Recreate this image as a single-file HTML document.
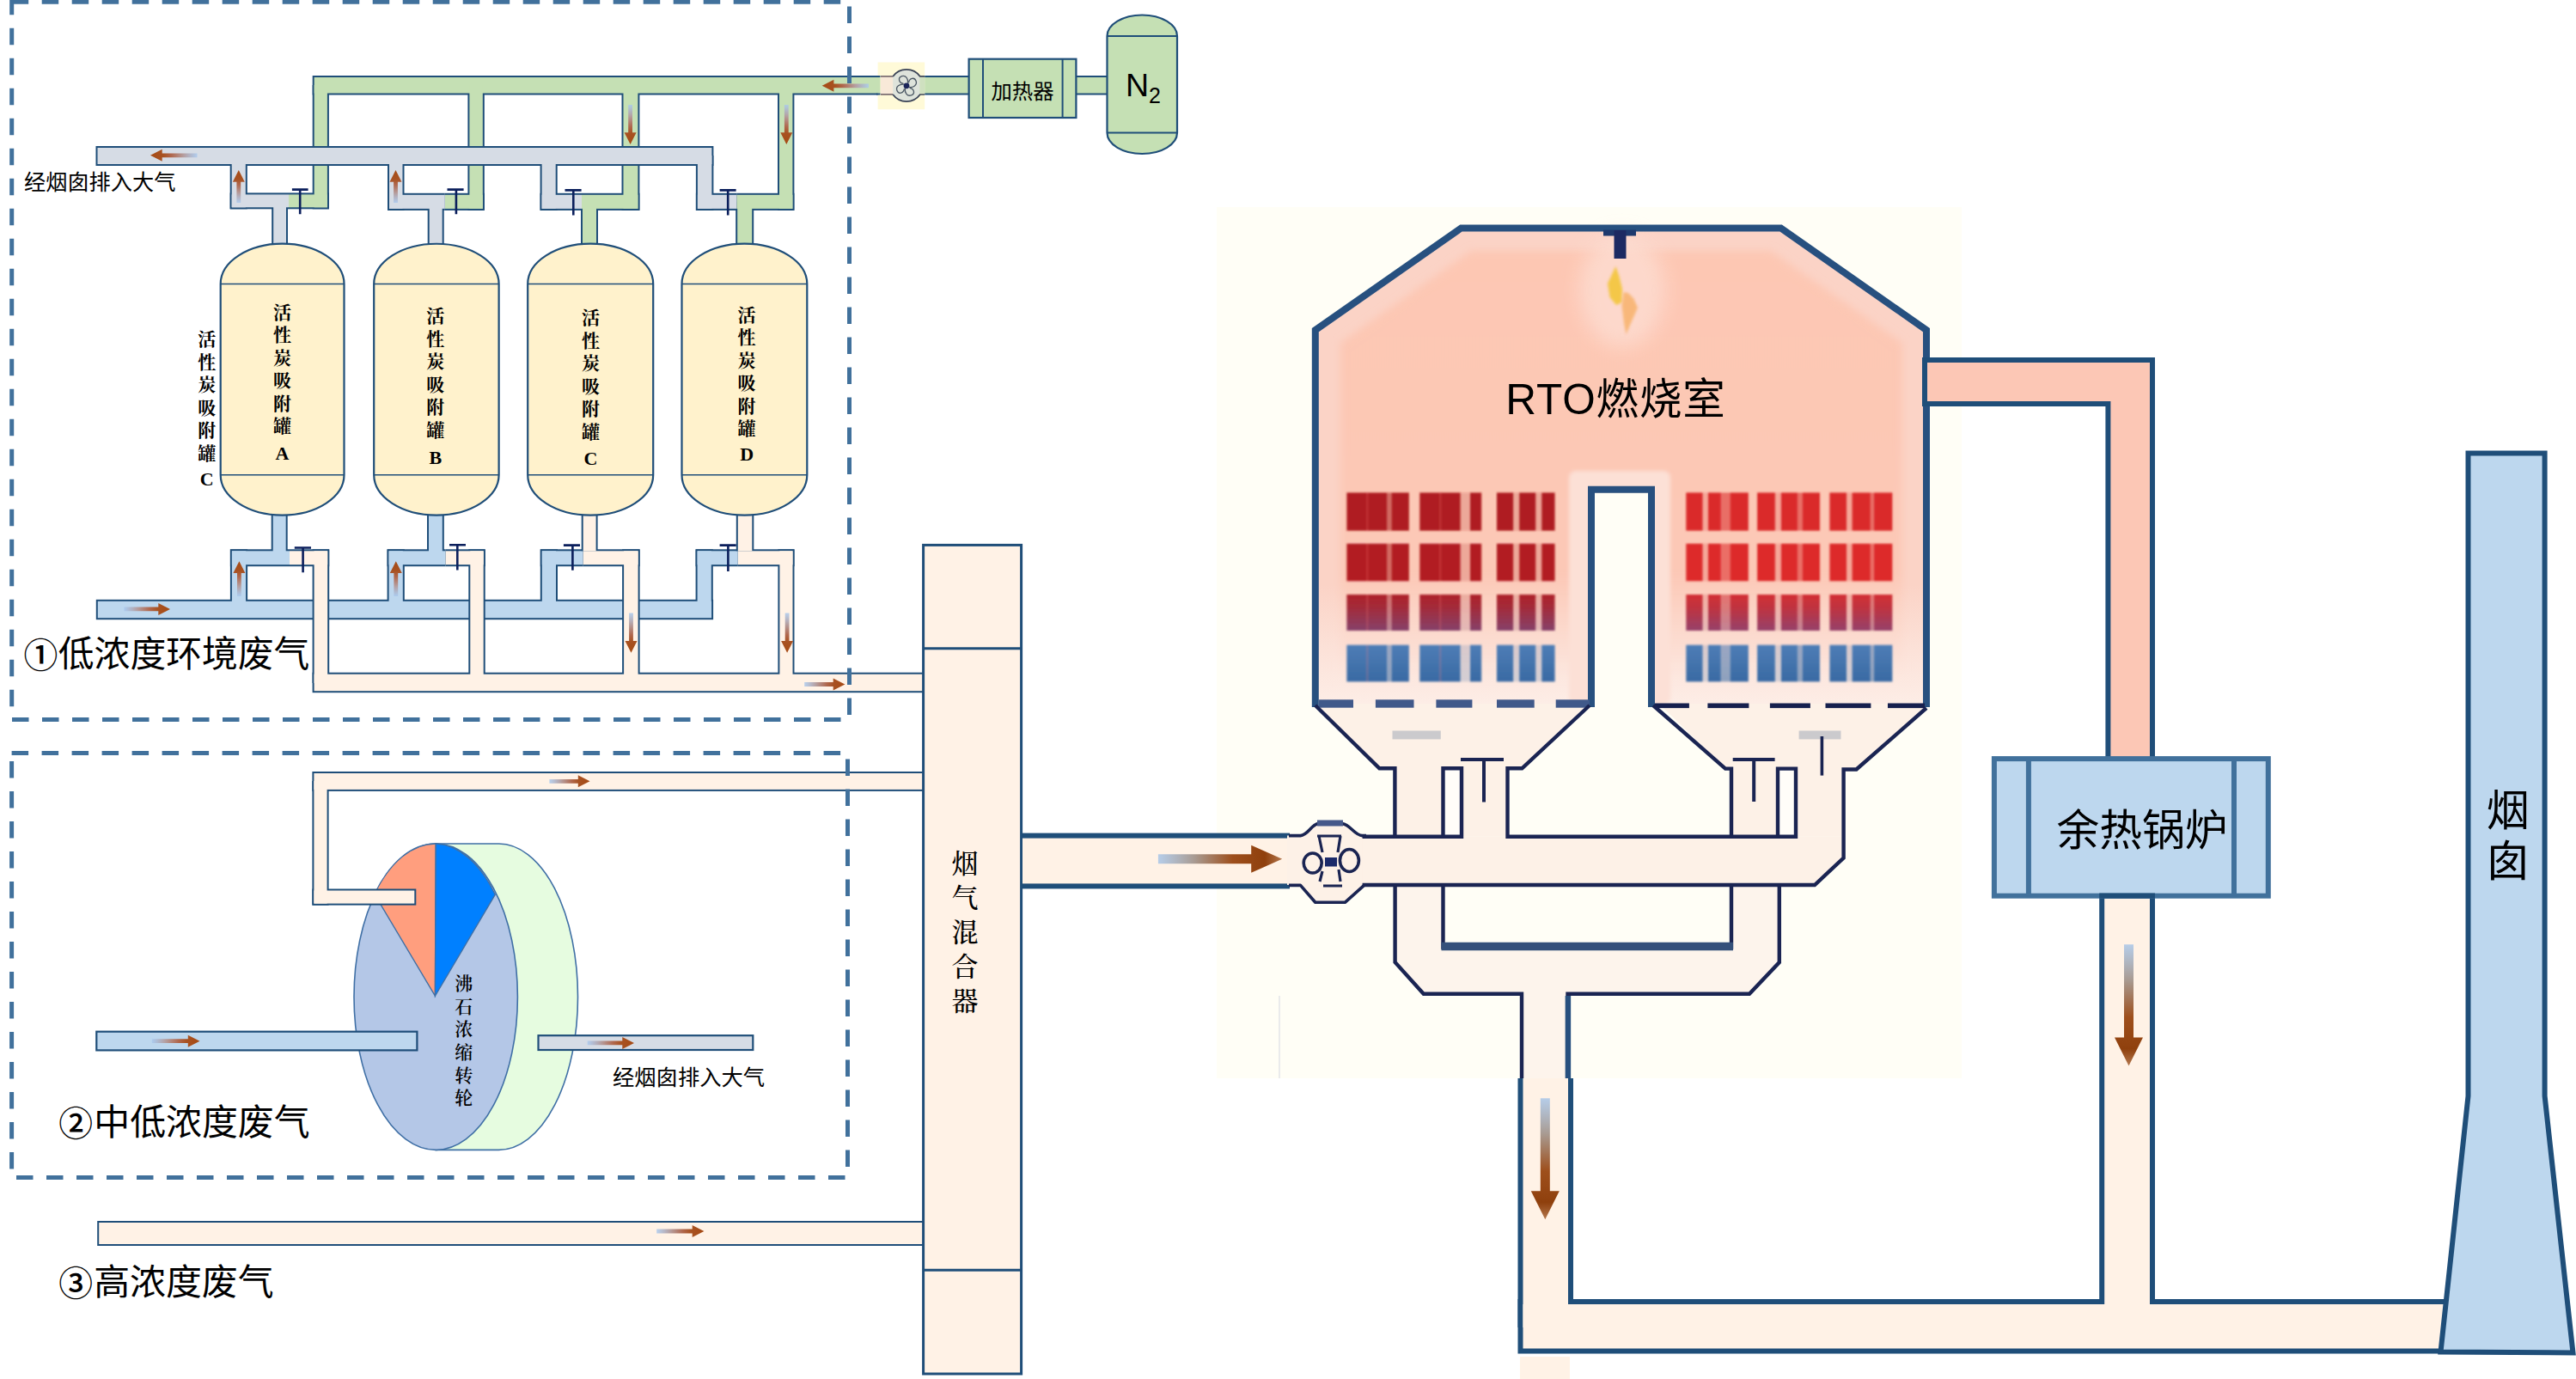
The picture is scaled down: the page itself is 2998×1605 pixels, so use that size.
<!DOCTYPE html>
<html lang="zh-CN"><head><meta charset="utf-8"><title>RTO</title>
<style>html,body{margin:0;padding:0;background:#fff}svg{display:block}</style></head>
<body>
<svg width="2998" height="1605" viewBox="0 0 2998 1605">
<defs>
<linearGradient id="ag1" gradientUnits="userSpaceOnUse" x1="733.6" y1="122" x2="733.6" y2="168"><stop offset="0" stop-color="#A8C8EE" stop-opacity="0.8"/><stop offset="0.3" stop-color="#B59C9C"/><stop offset="0.55" stop-color="#B0684E"/><stop offset="0.72" stop-color="#A85222"/><stop offset="1" stop-color="#A64A14"/></linearGradient>
<linearGradient id="ag2" gradientUnits="userSpaceOnUse" x1="915.3" y1="122" x2="915.3" y2="168"><stop offset="0" stop-color="#A8C8EE" stop-opacity="0.8"/><stop offset="0.3" stop-color="#B59C9C"/><stop offset="0.55" stop-color="#B0684E"/><stop offset="0.72" stop-color="#A85222"/><stop offset="1" stop-color="#A64A14"/></linearGradient>
<linearGradient id="ag3" gradientUnits="userSpaceOnUse" x1="1011" y1="99.8" x2="956.7" y2="99.8"><stop offset="0" stop-color="#A8C8EE" stop-opacity="0.8"/><stop offset="0.3" stop-color="#B59C9C"/><stop offset="0.55" stop-color="#B0684E"/><stop offset="0.72" stop-color="#A85222"/><stop offset="1" stop-color="#A64A14"/></linearGradient>
<linearGradient id="ag4" gradientUnits="userSpaceOnUse" x1="229.5" y1="180.8" x2="175" y2="180.8"><stop offset="0" stop-color="#A8C8EE" stop-opacity="0.8"/><stop offset="0.3" stop-color="#B59C9C"/><stop offset="0.55" stop-color="#B0684E"/><stop offset="0.72" stop-color="#A85222"/><stop offset="1" stop-color="#A64A14"/></linearGradient>
<linearGradient id="ag5" gradientUnits="userSpaceOnUse" x1="277.8" y1="236" x2="277.8" y2="198"><stop offset="0" stop-color="#A8C8EE" stop-opacity="0.8"/><stop offset="0.3" stop-color="#B59C9C"/><stop offset="0.55" stop-color="#B0684E"/><stop offset="0.72" stop-color="#A85222"/><stop offset="1" stop-color="#A64A14"/></linearGradient>
<linearGradient id="ag6" gradientUnits="userSpaceOnUse" x1="460.5" y1="236" x2="460.5" y2="198"><stop offset="0" stop-color="#A8C8EE" stop-opacity="0.8"/><stop offset="0.3" stop-color="#B59C9C"/><stop offset="0.55" stop-color="#B0684E"/><stop offset="0.72" stop-color="#A85222"/><stop offset="1" stop-color="#A64A14"/></linearGradient>
<linearGradient id="ag7" gradientUnits="userSpaceOnUse" x1="144.4" y1="708.9" x2="198" y2="708.9"><stop offset="0" stop-color="#A8C8EE" stop-opacity="0.8"/><stop offset="0.3" stop-color="#B59C9C"/><stop offset="0.55" stop-color="#B0684E"/><stop offset="0.72" stop-color="#A85222"/><stop offset="1" stop-color="#A64A14"/></linearGradient>
<linearGradient id="ag8" gradientUnits="userSpaceOnUse" x1="278.4" y1="694" x2="278.4" y2="653.2"><stop offset="0" stop-color="#A8C8EE" stop-opacity="0.8"/><stop offset="0.3" stop-color="#B59C9C"/><stop offset="0.55" stop-color="#B0684E"/><stop offset="0.72" stop-color="#A85222"/><stop offset="1" stop-color="#A64A14"/></linearGradient>
<linearGradient id="ag9" gradientUnits="userSpaceOnUse" x1="460.8" y1="694" x2="460.8" y2="653.2"><stop offset="0" stop-color="#A8C8EE" stop-opacity="0.8"/><stop offset="0.3" stop-color="#B59C9C"/><stop offset="0.55" stop-color="#B0684E"/><stop offset="0.72" stop-color="#A85222"/><stop offset="1" stop-color="#A64A14"/></linearGradient>
<linearGradient id="ag10" gradientUnits="userSpaceOnUse" x1="734.5" y1="713.4" x2="734.5" y2="759.7"><stop offset="0" stop-color="#A8C8EE" stop-opacity="0.8"/><stop offset="0.3" stop-color="#B59C9C"/><stop offset="0.55" stop-color="#B0684E"/><stop offset="0.72" stop-color="#A85222"/><stop offset="1" stop-color="#A64A14"/></linearGradient>
<linearGradient id="ag11" gradientUnits="userSpaceOnUse" x1="916.1" y1="713.4" x2="916.1" y2="759.7"><stop offset="0" stop-color="#A8C8EE" stop-opacity="0.8"/><stop offset="0.3" stop-color="#B59C9C"/><stop offset="0.55" stop-color="#B0684E"/><stop offset="0.72" stop-color="#A85222"/><stop offset="1" stop-color="#A64A14"/></linearGradient>
<linearGradient id="ag12" gradientUnits="userSpaceOnUse" x1="936.2" y1="796.5" x2="983.4" y2="796.5"><stop offset="0" stop-color="#A8C8EE" stop-opacity="0.8"/><stop offset="0.3" stop-color="#B59C9C"/><stop offset="0.55" stop-color="#B0684E"/><stop offset="0.72" stop-color="#A85222"/><stop offset="1" stop-color="#A64A14"/></linearGradient>
<linearGradient id="ag13" gradientUnits="userSpaceOnUse" x1="639.4" y1="909.3" x2="686.5" y2="909.3"><stop offset="0" stop-color="#A8C8EE" stop-opacity="0.8"/><stop offset="0.3" stop-color="#B59C9C"/><stop offset="0.55" stop-color="#B0684E"/><stop offset="0.72" stop-color="#A85222"/><stop offset="1" stop-color="#A64A14"/></linearGradient>
<linearGradient id="ag14" gradientUnits="userSpaceOnUse" x1="176.8" y1="1211.7" x2="232.5" y2="1211.7"><stop offset="0" stop-color="#A8C8EE" stop-opacity="0.8"/><stop offset="0.3" stop-color="#B59C9C"/><stop offset="0.55" stop-color="#B0684E"/><stop offset="0.72" stop-color="#A85222"/><stop offset="1" stop-color="#A64A14"/></linearGradient>
<linearGradient id="ag15" gradientUnits="userSpaceOnUse" x1="683.7" y1="1213.9" x2="738" y2="1213.9"><stop offset="0" stop-color="#A8C8EE" stop-opacity="0.8"/><stop offset="0.3" stop-color="#B59C9C"/><stop offset="0.55" stop-color="#B0684E"/><stop offset="0.72" stop-color="#A85222"/><stop offset="1" stop-color="#A64A14"/></linearGradient>
<linearGradient id="ag16" gradientUnits="userSpaceOnUse" x1="764.2" y1="1433" x2="819.4" y2="1433"><stop offset="0" stop-color="#A8C8EE" stop-opacity="0.8"/><stop offset="0.3" stop-color="#B59C9C"/><stop offset="0.55" stop-color="#B0684E"/><stop offset="0.72" stop-color="#A85222"/><stop offset="1" stop-color="#A64A14"/></linearGradient>
<filter id="b6" x="-10%" y="-10%" width="120%" height="120%"><feGaussianBlur stdDeviation="5"/></filter>
<filter id="b1" x="-5%" y="-5%" width="110%" height="110%"><feGaussianBlur stdDeviation="0.9"/></filter>
<filter id="b2" x="-40%" y="-20%" width="180%" height="140%"><feGaussianBlur stdDeviation="1.6"/></filter>
<filter id="b12" x="-40%" y="-40%" width="180%" height="180%"><feGaussianBlur stdDeviation="11"/></filter>
<filter id="b3" x="-20%" y="-20%" width="140%" height="140%"><feGaussianBlur stdDeviation="2.2"/></filter>
<linearGradient id="salm" x1="0" y1="0" x2="0" y2="1"><stop offset="0" stop-color="#FBD3C6"/><stop offset="0.75" stop-color="#FBD3C6"/><stop offset="0.9" stop-color="#FCE3DA"/><stop offset="1" stop-color="#FDEDE6"/></linearGradient>
<linearGradient id="salm2" x1="0" y1="0" x2="0" y2="1"><stop offset="0" stop-color="#FDC7B3"/><stop offset="0.72" stop-color="#FCC8B6"/><stop offset="0.9" stop-color="#FCDDD2" stop-opacity="0.6"/><stop offset="1" stop-color="#FDEDE6" stop-opacity="0"/></linearGradient>
<linearGradient id="gl3" x1="0" y1="0" x2="0" y2="1"><stop offset="0" stop-color="#AE2229"/><stop offset="0.35" stop-color="#A32B3A"/><stop offset="1" stop-color="#86416A"/></linearGradient>
<linearGradient id="gr3" x1="0" y1="0" x2="0" y2="1"><stop offset="0" stop-color="#D22E35"/><stop offset="0.35" stop-color="#C0333F"/><stop offset="1" stop-color="#96416A"/></linearGradient>
<linearGradient id="gl4" x1="0" y1="0" x2="0" y2="1"><stop offset="0" stop-color="#4E7DB6"/><stop offset="1" stop-color="#396AA3"/></linearGradient>
<linearGradient id="ag17" gradientUnits="userSpaceOnUse" x1="1347.9" y1="999.8" x2="1492.2" y2="999.8"><stop offset="0" stop-color="#A9C6E8" stop-opacity="0.85"/><stop offset="0.3" stop-color="#A8998F"/><stop offset="0.6" stop-color="#9E4F1C"/><stop offset="0.86" stop-color="#8F400D"/><stop offset="1" stop-color="#B4784E"/></linearGradient>
<linearGradient id="ag18" gradientUnits="userSpaceOnUse" x1="1798.3" y1="1278.3" x2="1798.3" y2="1419.3"><stop offset="0" stop-color="#A9C6E8" stop-opacity="0.85"/><stop offset="0.3" stop-color="#A8998F"/><stop offset="0.6" stop-color="#9E4F1C"/><stop offset="0.86" stop-color="#8F400D"/><stop offset="1" stop-color="#B4784E"/></linearGradient>
<linearGradient id="ag19" gradientUnits="userSpaceOnUse" x1="2477.5" y1="1099.3" x2="2477.5" y2="1240.5"><stop offset="0" stop-color="#A9C6E8" stop-opacity="0.85"/><stop offset="0.3" stop-color="#A8998F"/><stop offset="0.6" stop-color="#9E4F1C"/><stop offset="0.86" stop-color="#8F400D"/><stop offset="1" stop-color="#B4784E"/></linearGradient>
</defs>
<g id="sec1">
<rect x="363.7" y="88.0" width="763.9" height="22.5" fill="#1F4E79"/>
<rect x="1252.4" y="88.0" width="36.1" height="22.5" fill="#1F4E79"/>
<rect x="363.7" y="99.0" width="19.2" height="144.3" fill="#1F4E79"/>
<rect x="336.0" y="224.4" width="46.9" height="18.9" fill="#1F4E79"/>
<rect x="544.4" y="99.0" width="19.4" height="145.9" fill="#1F4E79"/>
<rect x="517.8" y="224.8" width="46.0" height="20.1" fill="#1F4E79"/>
<rect x="723.5" y="99.0" width="20.9" height="145.9" fill="#1F4E79"/>
<rect x="677.0" y="224.8" width="67.4" height="20.1" fill="#1F4E79"/>
<rect x="676.0" y="235.0" width="20.0" height="65.0" fill="#1F4E79"/>
<rect x="905.0" y="99.0" width="19.4" height="145.9" fill="#1F4E79"/>
<rect x="857.2" y="224.8" width="67.2" height="20.1" fill="#1F4E79"/>
<rect x="856.2" y="235.0" width="21.0" height="65.0" fill="#1F4E79"/>
<rect x="365.7" y="90.0" width="761.9" height="18.5" fill="#C5E0B4"/>
<rect x="1252.4" y="90.0" width="36.1" height="18.5" fill="#C5E0B4"/>
<rect x="365.7" y="99.0" width="15.2" height="142.3" fill="#C5E0B4"/>
<rect x="336.0" y="226.4" width="44.9" height="14.9" fill="#C5E0B4"/>
<rect x="546.4" y="99.0" width="15.4" height="143.9" fill="#C5E0B4"/>
<rect x="517.8" y="226.8" width="44.0" height="16.1" fill="#C5E0B4"/>
<rect x="725.5" y="99.0" width="16.9" height="143.9" fill="#C5E0B4"/>
<rect x="677.0" y="226.8" width="65.4" height="16.1" fill="#C5E0B4"/>
<rect x="678.0" y="235.0" width="16.0" height="65.0" fill="#C5E0B4"/>
<rect x="907.0" y="99.0" width="15.4" height="143.9" fill="#C5E0B4"/>
<rect x="857.2" y="226.8" width="65.2" height="16.1" fill="#C5E0B4"/>
<rect x="858.2" y="235.0" width="17.0" height="65.0" fill="#C5E0B4"/>
<polygon points="731.2,122.0 731.2,154.3 726.6,154.3 733.6,168.0 740.6,154.3 736.0,154.3 736.0,122.0" fill="url(#ag1)"/>
<polygon points="912.9,122.0 912.9,154.3 908.3,154.3 915.3,168.0 922.3,154.3 917.7,154.3 917.7,122.0" fill="url(#ag2)"/>
<polygon points="1011.0,97.4 970.4,97.4 970.4,92.8 956.7,99.8 970.4,106.8 970.4,102.2 1011.0,102.2" fill="url(#ag3)"/>
<rect x="111.5" y="170.0" width="718.9" height="23.0" fill="#1F4E79"/>
<rect x="267.7" y="181.0" width="20.1" height="62.3" fill="#1F4E79"/>
<rect x="267.7" y="224.4" width="68.3" height="18.9" fill="#1F4E79"/>
<rect x="316.2" y="234.0" width="18.8" height="66.0" fill="#1F4E79"/>
<rect x="451.0" y="181.0" width="19.5" height="63.9" fill="#1F4E79"/>
<rect x="451.0" y="224.8" width="66.8" height="20.1" fill="#1F4E79"/>
<rect x="497.7" y="235.0" width="19.0" height="65.0" fill="#1F4E79"/>
<rect x="628.6" y="181.0" width="20.1" height="63.9" fill="#1F4E79"/>
<rect x="628.6" y="224.8" width="48.4" height="20.1" fill="#1F4E79"/>
<rect x="809.9" y="181.0" width="20.5" height="63.9" fill="#1F4E79"/>
<rect x="809.9" y="224.8" width="47.3" height="20.1" fill="#1F4E79"/>
<rect x="113.5" y="172.0" width="714.9" height="19.0" fill="#D6DCE5"/>
<rect x="269.7" y="181.0" width="16.1" height="60.3" fill="#D6DCE5"/>
<rect x="269.7" y="226.4" width="66.3" height="14.9" fill="#D6DCE5"/>
<rect x="318.2" y="234.0" width="14.8" height="66.0" fill="#D6DCE5"/>
<rect x="453.0" y="181.0" width="15.5" height="61.9" fill="#D6DCE5"/>
<rect x="453.0" y="226.8" width="64.8" height="16.1" fill="#D6DCE5"/>
<rect x="499.7" y="235.0" width="15.0" height="65.0" fill="#D6DCE5"/>
<rect x="630.6" y="181.0" width="16.1" height="61.9" fill="#D6DCE5"/>
<rect x="630.6" y="226.8" width="46.4" height="16.1" fill="#D6DCE5"/>
<rect x="811.9" y="181.0" width="16.5" height="61.9" fill="#D6DCE5"/>
<rect x="811.9" y="226.8" width="45.3" height="16.1" fill="#D6DCE5"/>
<polygon points="229.5,178.4 188.7,178.4 188.7,173.8 175.0,180.8 188.7,187.8 188.7,183.2 229.5,183.2" fill="url(#ag4)"/>
<polygon points="280.2,236.0 280.2,211.7 284.8,211.7 277.8,198.0 270.8,211.7 275.4,211.7 275.4,236.0" fill="url(#ag5)"/>
<polygon points="462.9,236.0 462.9,211.7 467.5,211.7 460.5,198.0 453.5,211.7 458.1,211.7 458.1,236.0" fill="url(#ag6)"/>
<rect x="111.8" y="697.8" width="718.3" height="23.4" fill="#1F4E79"/>
<rect x="267.9" y="639.3" width="20.2" height="69.7" fill="#1F4E79"/>
<rect x="267.9" y="639.3" width="69.1" height="19.9" fill="#1F4E79"/>
<rect x="450.6" y="639.3" width="20.2" height="69.7" fill="#1F4E79"/>
<rect x="450.6" y="639.3" width="68.0" height="19.9" fill="#1F4E79"/>
<rect x="628.8" y="639.3" width="20.2" height="69.7" fill="#1F4E79"/>
<rect x="628.8" y="639.3" width="49.9" height="19.9" fill="#1F4E79"/>
<rect x="809.6" y="639.3" width="20.2" height="69.7" fill="#1F4E79"/>
<rect x="809.6" y="639.3" width="49.2" height="19.9" fill="#1F4E79"/>
<rect x="315.7" y="580.0" width="19.0" height="70.0" fill="#1F4E79"/>
<rect x="497.0" y="580.0" width="19.8" height="70.0" fill="#1F4E79"/>
<rect x="113.8" y="699.8" width="714.3" height="19.4" fill="#BDD7EE"/>
<rect x="269.9" y="641.3" width="16.2" height="67.7" fill="#BDD7EE"/>
<rect x="269.9" y="641.3" width="67.1" height="15.9" fill="#BDD7EE"/>
<rect x="452.6" y="641.3" width="16.2" height="67.7" fill="#BDD7EE"/>
<rect x="452.6" y="641.3" width="66.0" height="15.9" fill="#BDD7EE"/>
<rect x="630.8" y="641.3" width="16.2" height="67.7" fill="#BDD7EE"/>
<rect x="630.8" y="641.3" width="47.9" height="15.9" fill="#BDD7EE"/>
<rect x="811.6" y="641.3" width="16.2" height="67.7" fill="#BDD7EE"/>
<rect x="811.6" y="641.3" width="47.2" height="15.9" fill="#BDD7EE"/>
<rect x="317.7" y="580.0" width="15.0" height="70.0" fill="#BDD7EE"/>
<rect x="499.0" y="580.0" width="15.8" height="70.0" fill="#BDD7EE"/>
<polygon points="144.4,711.3 184.3,711.3 184.3,715.9 198.0,708.9 184.3,701.9 184.3,706.5 144.4,706.5" fill="url(#ag7)"/>
<polygon points="280.8,694.0 280.8,666.9 285.4,666.9 278.4,653.2 271.4,666.9 276.0,666.9 276.0,694.0" fill="url(#ag8)"/>
<polygon points="463.2,694.0 463.2,666.9 467.8,666.9 460.8,653.2 453.8,666.9 458.4,666.9 458.4,694.0" fill="url(#ag9)"/>
<rect x="363.6" y="782.7" width="716.4" height="23.5" fill="#1F4E79"/>
<rect x="337.0" y="639.3" width="46.2" height="19.9" fill="#1F4E79"/>
<rect x="363.6" y="639.3" width="19.6" height="155.7" fill="#1F4E79"/>
<rect x="518.6" y="639.3" width="46.1" height="19.9" fill="#1F4E79"/>
<rect x="545.3" y="639.3" width="19.4" height="155.7" fill="#1F4E79"/>
<rect x="678.7" y="639.3" width="65.9" height="19.9" fill="#1F4E79"/>
<rect x="724.1" y="639.3" width="20.5" height="155.7" fill="#1F4E79"/>
<rect x="858.8" y="639.3" width="65.7" height="19.9" fill="#1F4E79"/>
<rect x="905.4" y="639.3" width="19.1" height="155.7" fill="#1F4E79"/>
<rect x="676.7" y="580.0" width="18.9" height="61.3" fill="#1F4E79"/>
<rect x="856.8" y="580.0" width="20.5" height="61.3" fill="#1F4E79"/>
<rect x="365.6" y="784.7" width="714.4" height="19.5" fill="#FFF2E6"/>
<rect x="337.0" y="641.3" width="44.2" height="15.9" fill="#FFF2E6"/>
<rect x="365.6" y="641.3" width="15.6" height="153.7" fill="#FFF2E6"/>
<rect x="518.6" y="641.3" width="44.1" height="15.9" fill="#FFF2E6"/>
<rect x="547.3" y="641.3" width="15.4" height="153.7" fill="#FFF2E6"/>
<rect x="678.7" y="641.3" width="63.9" height="15.9" fill="#FFF2E6"/>
<rect x="726.1" y="641.3" width="16.5" height="153.7" fill="#FFF2E6"/>
<rect x="858.8" y="641.3" width="63.7" height="15.9" fill="#FFF2E6"/>
<rect x="907.4" y="641.3" width="15.1" height="153.7" fill="#FFF2E6"/>
<rect x="678.7" y="580.0" width="14.9" height="61.3" fill="#FFF2E6"/>
<rect x="858.8" y="580.0" width="16.5" height="61.3" fill="#FFF2E6"/>
<polygon points="732.1,713.4 732.1,746.0 727.5,746.0 734.5,759.7 741.5,746.0 736.9,746.0 736.9,713.4" fill="url(#ag10)"/>
<polygon points="913.7,713.4 913.7,746.0 909.1,746.0 916.1,759.7 923.1,746.0 918.5,746.0 918.5,713.4" fill="url(#ag11)"/>
<polygon points="936.2,798.9 969.7,798.9 969.7,803.5 983.4,796.5 969.7,789.5 969.7,794.1 936.2,794.1" fill="url(#ag12)"/>
<path d="M256.7 330.5 A71.9 46.8 0 0 1 400.5 330.5 V552.8 A71.9 46.8 0 0 1 256.7 552.8 Z" fill="#FFF2CC" stroke="#1F4E79" stroke-width="2.2"/>
<path d="M256.7 330.5 H400.5 M256.7 552.8 H400.5" stroke="#1F4E79" stroke-width="1.6" fill="none"/>
<path d="M435.2 330.5 A72.7 46.8 0 0 1 580.6 330.5 V552.8 A72.7 46.8 0 0 1 435.2 552.8 Z" fill="#FFF2CC" stroke="#1F4E79" stroke-width="2.2"/>
<path d="M435.2 330.5 H580.6 M435.2 552.8 H580.6" stroke="#1F4E79" stroke-width="1.6" fill="none"/>
<path d="M614.2 330.5 A73.0 46.8 0 0 1 760.2 330.5 V552.8 A73.0 46.8 0 0 1 614.2 552.8 Z" fill="#FFF2CC" stroke="#1F4E79" stroke-width="2.2"/>
<path d="M614.2 330.5 H760.2 M614.2 552.8 H760.2" stroke="#1F4E79" stroke-width="1.6" fill="none"/>
<path d="M793.5 330.5 A72.9 46.8 0 0 1 939.3 330.5 V552.8 A72.9 46.8 0 0 1 793.5 552.8 Z" fill="#FFF2CC" stroke="#1F4E79" stroke-width="2.2"/>
<path d="M793.5 330.5 H939.3 M793.5 552.8 H939.3" stroke="#1F4E79" stroke-width="1.6" fill="none"/>
<path d="M339.9 220.6 H358.6 M349.2 220.6 V249.3" stroke="#0B1F5C" stroke-width="2.6" fill="none"/>
<path d="M520.5 220.6 H539.6 M530.9 220.6 V249.3" stroke="#0B1F5C" stroke-width="2.6" fill="none"/>
<path d="M657.5 221.4 H676.6 M667.3 221.4 V250.4" stroke="#0B1F5C" stroke-width="2.6" fill="none"/>
<path d="M837.6 221.4 H856.6 M847.2 221.4 V250.4" stroke="#0B1F5C" stroke-width="2.6" fill="none"/>
<path d="M342.8 637.5 H362.0 M352.6 637.5 V666.2" stroke="#0B1F5C" stroke-width="2.6" fill="none"/>
<path d="M523.0 634.2 H542.0 M532.3 634.2 V663.6" stroke="#0B1F5C" stroke-width="2.6" fill="none"/>
<path d="M655.9 634.6 H675.0 M666.4 634.6 V663.8" stroke="#0B1F5C" stroke-width="2.6" fill="none"/>
<path d="M837.6 634.6 H856.7 M847.4 634.6 V664.9" stroke="#0B1F5C" stroke-width="2.6" fill="none"/>
<text x="328.4" y="363.6" font-size="21" font-family='"Liberation Serif","Noto Serif CJK SC",serif' font-weight="bold" fill="#000" text-anchor="middle" dominant-baseline="central">活</text>
<text x="328.4" y="390.1" font-size="21" font-family='"Liberation Serif","Noto Serif CJK SC",serif' font-weight="bold" fill="#000" text-anchor="middle" dominant-baseline="central">性</text>
<text x="328.4" y="416.6" font-size="21" font-family='"Liberation Serif","Noto Serif CJK SC",serif' font-weight="bold" fill="#000" text-anchor="middle" dominant-baseline="central">炭</text>
<text x="328.4" y="443.1" font-size="21" font-family='"Liberation Serif","Noto Serif CJK SC",serif' font-weight="bold" fill="#000" text-anchor="middle" dominant-baseline="central">吸</text>
<text x="328.4" y="469.6" font-size="21" font-family='"Liberation Serif","Noto Serif CJK SC",serif' font-weight="bold" fill="#000" text-anchor="middle" dominant-baseline="central">附</text>
<text x="328.4" y="496.1" font-size="21" font-family='"Liberation Serif","Noto Serif CJK SC",serif' font-weight="bold" fill="#000" text-anchor="middle" dominant-baseline="central">罐</text>
<text x="328.4" y="527.8" font-size="22" font-family='"Liberation Serif","Noto Serif CJK SC",serif' font-weight="bold" text-anchor="middle" dominant-baseline="central">A</text>
<text x="506.8" y="368.3" font-size="21" font-family='"Liberation Serif","Noto Serif CJK SC",serif' font-weight="bold" fill="#000" text-anchor="middle" dominant-baseline="central">活</text>
<text x="506.8" y="394.8" font-size="21" font-family='"Liberation Serif","Noto Serif CJK SC",serif' font-weight="bold" fill="#000" text-anchor="middle" dominant-baseline="central">性</text>
<text x="506.8" y="421.3" font-size="21" font-family='"Liberation Serif","Noto Serif CJK SC",serif' font-weight="bold" fill="#000" text-anchor="middle" dominant-baseline="central">炭</text>
<text x="506.8" y="447.8" font-size="21" font-family='"Liberation Serif","Noto Serif CJK SC",serif' font-weight="bold" fill="#000" text-anchor="middle" dominant-baseline="central">吸</text>
<text x="506.8" y="474.3" font-size="21" font-family='"Liberation Serif","Noto Serif CJK SC",serif' font-weight="bold" fill="#000" text-anchor="middle" dominant-baseline="central">附</text>
<text x="506.8" y="500.8" font-size="21" font-family='"Liberation Serif","Noto Serif CJK SC",serif' font-weight="bold" fill="#000" text-anchor="middle" dominant-baseline="central">罐</text>
<text x="506.8" y="532.2" font-size="22" font-family='"Liberation Serif","Noto Serif CJK SC",serif' font-weight="bold" text-anchor="middle" dominant-baseline="central">B</text>
<text x="687.4" y="370.0" font-size="21" font-family='"Liberation Serif","Noto Serif CJK SC",serif' font-weight="bold" fill="#000" text-anchor="middle" dominant-baseline="central">活</text>
<text x="687.4" y="396.5" font-size="21" font-family='"Liberation Serif","Noto Serif CJK SC",serif' font-weight="bold" fill="#000" text-anchor="middle" dominant-baseline="central">性</text>
<text x="687.4" y="423.0" font-size="21" font-family='"Liberation Serif","Noto Serif CJK SC",serif' font-weight="bold" fill="#000" text-anchor="middle" dominant-baseline="central">炭</text>
<text x="687.4" y="449.5" font-size="21" font-family='"Liberation Serif","Noto Serif CJK SC",serif' font-weight="bold" fill="#000" text-anchor="middle" dominant-baseline="central">吸</text>
<text x="687.4" y="476.0" font-size="21" font-family='"Liberation Serif","Noto Serif CJK SC",serif' font-weight="bold" fill="#000" text-anchor="middle" dominant-baseline="central">附</text>
<text x="687.4" y="502.5" font-size="21" font-family='"Liberation Serif","Noto Serif CJK SC",serif' font-weight="bold" fill="#000" text-anchor="middle" dominant-baseline="central">罐</text>
<text x="687.4" y="533.3" font-size="22" font-family='"Liberation Serif","Noto Serif CJK SC",serif' font-weight="bold" text-anchor="middle" dominant-baseline="central">C</text>
<text x="869.1" y="366.9" font-size="21" font-family='"Liberation Serif","Noto Serif CJK SC",serif' font-weight="bold" fill="#000" text-anchor="middle" dominant-baseline="central">活</text>
<text x="869.1" y="393.4" font-size="21" font-family='"Liberation Serif","Noto Serif CJK SC",serif' font-weight="bold" fill="#000" text-anchor="middle" dominant-baseline="central">性</text>
<text x="869.1" y="419.9" font-size="21" font-family='"Liberation Serif","Noto Serif CJK SC",serif' font-weight="bold" fill="#000" text-anchor="middle" dominant-baseline="central">炭</text>
<text x="869.1" y="446.4" font-size="21" font-family='"Liberation Serif","Noto Serif CJK SC",serif' font-weight="bold" fill="#000" text-anchor="middle" dominant-baseline="central">吸</text>
<text x="869.1" y="472.9" font-size="21" font-family='"Liberation Serif","Noto Serif CJK SC",serif' font-weight="bold" fill="#000" text-anchor="middle" dominant-baseline="central">附</text>
<text x="869.1" y="499.4" font-size="21" font-family='"Liberation Serif","Noto Serif CJK SC",serif' font-weight="bold" fill="#000" text-anchor="middle" dominant-baseline="central">罐</text>
<text x="869.1" y="528.5" font-size="22" font-family='"Liberation Serif","Noto Serif CJK SC",serif' font-weight="bold" text-anchor="middle" dominant-baseline="central">D</text>
<text x="240.7" y="395.0" font-size="21" font-family='"Liberation Serif","Noto Serif CJK SC",serif' font-weight="bold" fill="#000" text-anchor="middle" dominant-baseline="central">活</text>
<text x="240.7" y="421.5" font-size="21" font-family='"Liberation Serif","Noto Serif CJK SC",serif' font-weight="bold" fill="#000" text-anchor="middle" dominant-baseline="central">性</text>
<text x="240.7" y="448.0" font-size="21" font-family='"Liberation Serif","Noto Serif CJK SC",serif' font-weight="bold" fill="#000" text-anchor="middle" dominant-baseline="central">炭</text>
<text x="240.7" y="474.5" font-size="21" font-family='"Liberation Serif","Noto Serif CJK SC",serif' font-weight="bold" fill="#000" text-anchor="middle" dominant-baseline="central">吸</text>
<text x="240.7" y="501.0" font-size="21" font-family='"Liberation Serif","Noto Serif CJK SC",serif' font-weight="bold" fill="#000" text-anchor="middle" dominant-baseline="central">附</text>
<text x="240.7" y="527.5" font-size="21" font-family='"Liberation Serif","Noto Serif CJK SC",serif' font-weight="bold" fill="#000" text-anchor="middle" dominant-baseline="central">罐</text>
<text x="240.7" y="557.2" font-size="22" font-family='"Liberation Serif","Noto Serif CJK SC",serif' font-weight="bold" text-anchor="middle" dominant-baseline="central">C</text>
<text x="28" y="220.5" font-size="25.2" font-family='"Liberation Sans","Noto Sans CJK SC",sans-serif'>经烟囱排入大气</text>
<text x="27.4" y="762.5" font-size="39.8" font-weight="500" font-family='"Liberation Sans","Noto Sans CJK SC",sans-serif' dominant-baseline="central">①</text>
<text x="67.8" y="775.5" font-size="41.8" font-family='"Liberation Sans","Noto Sans CJK SC",sans-serif'>低浓度环境废气</text>
<rect x="1021.6" y="72.5" width="54.6" height="54.8" fill="#FFFAD8"/>
<rect x="1025" y="89.8" width="17" height="19.2" fill="#F8E9D8"/>
<path d="M1025 88.9 H1040.5 M1025 109.8 H1040.5" stroke="#7C6E72" stroke-width="1.7" fill="none"/>
<rect x="1020.5" y="90" width="4" height="18.5" fill="#C5E0B4"/>
<path d="M1020 89 H1024.5 M1020 109.5 H1024.5" stroke="#1F4E79" stroke-width="2" fill="none"/>
<path d="M1039.2 88.7 A19.5 19.5 0 0 1 1070.8 88.7 V110.3 A19.5 19.5 0 0 1 1039.2 110.3 Z" fill="#DEE3DB"/>
<rect x="1070.3" y="90" width="6" height="18.8" fill="#CFE0C0"/>
<path d="M1039.2 88.9 A19.5 19.5 0 0 1 1070.8 88.9 H1076 M1039.2 110 A19.5 19.5 0 0 0 1070.8 110 H1076" fill="none" stroke="#3A4356" stroke-width="1.7"/>
<path d="M1.2 -3.2 C1.2 -8 -2.5 -12.6 -7 -10.2 C-11.5 -7.8 -9.5 -2.2 -4 -2" fill="none" stroke="#4C5864" stroke-width="1.3" transform="translate(1055 99.8) rotate(8)"/>
<path d="M1.2 -3.2 C1.2 -8 -2.5 -12.6 -7 -10.2 C-11.5 -7.8 -9.5 -2.2 -4 -2" fill="none" stroke="#4C5864" stroke-width="1.3" transform="translate(1055 99.8) rotate(98)"/>
<path d="M1.2 -3.2 C1.2 -8 -2.5 -12.6 -7 -10.2 C-11.5 -7.8 -9.5 -2.2 -4 -2" fill="none" stroke="#4C5864" stroke-width="1.3" transform="translate(1055 99.8) rotate(188)"/>
<path d="M1.2 -3.2 C1.2 -8 -2.5 -12.6 -7 -10.2 C-11.5 -7.8 -9.5 -2.2 -4 -2" fill="none" stroke="#4C5864" stroke-width="1.3" transform="translate(1055 99.8) rotate(278)"/>
<circle cx="1055" cy="99.8" r="3.4" fill="#1B2559"/>
<rect x="1127.6" y="68.7" width="124.8" height="68.3" fill="#C5E0B4" stroke="#1F4E79" stroke-width="2.2" />
<line x1="1144.0" y1="68.7" x2="1144.0" y2="137.0" stroke="#1F4E79" stroke-width="2" />
<line x1="1236.6" y1="68.7" x2="1236.6" y2="137.0" stroke="#1F4E79" stroke-width="2" />
<text x="1190" y="106" font-size="24.4" font-family='"Liberation Sans","Noto Sans CJK SC",sans-serif' text-anchor="middle" dominant-baseline="central">加热器</text>
<path d="M1288.5 42 A40.75 24.5 0 0 1 1370 42 V154.5 A40.75 24.5 0 0 1 1288.5 154.5 Z" fill="#C5E0B4" stroke="#1F4E79" stroke-width="2.2"/>
<path d="M1288.5 42 H1370 M1288.5 154.5 H1370" stroke="#1F4E79" stroke-width="2" fill="none"/>
<text x="1310" y="112" font-size="37.5" font-family='"Liberation Sans","Noto Sans CJK SC",sans-serif'>N<tspan font-size="25" dy="8">2</tspan></text>
<rect x="13.7" y="2.2" width="974.8" height="835.2" stroke="#41719C" stroke-width="5" stroke-dasharray="19.5 15.5" fill="none"/>
</g>
<g id="sec2">
<path d="M507.2 982 H580.5 A92 178.2 0 0 1 580.5 1338.4 H507.2 Z" fill="#E6FCE0" stroke="#3F6FA5" stroke-width="1.6"/>
<ellipse cx="507.2" cy="1160.2" rx="95.2" ry="178.2" fill="#B4C7E7" stroke="#3F6FA5" stroke-width="1.6"/>
<path d="M506.4 1159.2 L435.8 1040.6 A95.2 178.2 0 0 1 507.2 982 Z" fill="#FF9E7E" stroke="#3F6FA5" stroke-width="1.3"/>
<path d="M506.4 1159.2 L507.2 982 A95.2 178.2 0 0 1 576.3 1041.2 Z" fill="#0080FF" stroke="#3F6FA5" stroke-width="1.3"/>
<rect x="363.4" y="898.0" width="716.6" height="22.9" fill="#1F4E79"/>
<rect x="363.4" y="909.0" width="19.2" height="144.6" fill="#1F4E79"/>
<rect x="363.4" y="1034.5" width="120.9" height="19.1" fill="#1F4E79"/>
<rect x="365.4" y="900.0" width="714.6" height="18.9" fill="#FFF2E6"/>
<rect x="365.4" y="909.0" width="15.2" height="142.6" fill="#FFF2E6"/>
<rect x="365.4" y="1036.5" width="116.9" height="15.1" fill="#FFF2E6"/>
<polygon points="639.4,911.7 672.8,911.7 672.8,916.3 686.5,909.3 672.8,902.3 672.8,906.9 639.4,906.9" fill="url(#ag13)"/>
<rect x="112.3" y="1200.7" width="373.1" height="21.7" fill="#BDD7EE" stroke="#1F4E79" stroke-width="2.2" />
<polygon points="176.8,1214.1 218.8,1214.1 218.8,1218.7 232.5,1211.7 218.8,1204.7 218.8,1209.3 176.8,1209.3" fill="url(#ag14)"/>
<rect x="626.5" y="1205.2" width="249.8" height="16.8" fill="#D6DCE5" stroke="#1F4E79" stroke-width="2.2" />
<polygon points="683.7,1216.3 724.3,1216.3 724.3,1220.9 738.0,1213.9 724.3,1206.9 724.3,1211.5 683.7,1211.5" fill="url(#ag15)"/>
<text x="539.8" y="1144.9" font-size="21" font-family='"Liberation Serif","Noto Serif CJK SC",serif' font-weight="600" fill="#000" text-anchor="middle" dominant-baseline="central">沸</text>
<text x="539.8" y="1171.5" font-size="21" font-family='"Liberation Serif","Noto Serif CJK SC",serif' font-weight="600" fill="#000" text-anchor="middle" dominant-baseline="central">石</text>
<text x="539.8" y="1198.2" font-size="21" font-family='"Liberation Serif","Noto Serif CJK SC",serif' font-weight="600" fill="#000" text-anchor="middle" dominant-baseline="central">浓</text>
<text x="539.8" y="1224.8" font-size="21" font-family='"Liberation Serif","Noto Serif CJK SC",serif' font-weight="600" fill="#000" text-anchor="middle" dominant-baseline="central">缩</text>
<text x="539.8" y="1251.5" font-size="21" font-family='"Liberation Serif","Noto Serif CJK SC",serif' font-weight="600" fill="#000" text-anchor="middle" dominant-baseline="central">转</text>
<text x="539.8" y="1278.1" font-size="21" font-family='"Liberation Serif","Noto Serif CJK SC",serif' font-weight="600" fill="#000" text-anchor="middle" dominant-baseline="central">轮</text>
<text x="713" y="1263" font-size="25.3" font-family='"Liberation Sans","Noto Sans CJK SC",sans-serif'>经烟囱排入大气</text>
<text x="68.2" y="1307.5" font-size="39.8" font-weight="500" font-family='"Liberation Sans","Noto Sans CJK SC",sans-serif' dominant-baseline="central">②</text>
<text x="109.3" y="1321" font-size="41.9" font-family='"Liberation Sans","Noto Sans CJK SC",sans-serif'>中低浓度废气</text>
<rect x="13.6" y="876.4" width="972.9" height="494.1" stroke="#41719C" stroke-width="5" stroke-dasharray="19.5 15.5" fill="none"/>
</g>
<rect x="113.2" y="1421.0" width="966.8" height="29.0" fill="#1F4E79"/>
<rect x="115.2" y="1423.0" width="964.8" height="25.0" fill="#FFF2E6"/>
<polygon points="764.2,1435.4 805.7,1435.4 805.7,1440.0 819.4,1433.0 805.7,1426.0 805.7,1430.6 764.2,1430.6" fill="url(#ag16)"/>
<text x="68.2" y="1493.8" font-size="39.8" font-weight="500" font-family='"Liberation Sans","Noto Sans CJK SC",sans-serif' dominant-baseline="central">③</text>
<text x="109.2" y="1507" font-size="41.9" font-family='"Liberation Sans","Noto Sans CJK SC",sans-serif'>高浓度废气</text>
<rect x="1074.6" y="634.4" width="114.0" height="964.6" fill="#FFF2E6" stroke="#1F4E79" stroke-width="3" />
<line x1="1074.6" y1="754.7" x2="1188.6" y2="754.7" stroke="#1F4E79" stroke-width="3" />
<line x1="1074.6" y1="1478.2" x2="1188.6" y2="1478.2" stroke="#1F4E79" stroke-width="3" />
<text x="1123.0" y="1005.0" font-size="31" font-family='"Liberation Serif","Noto Serif CJK SC",serif' font-weight="500" fill="#000" text-anchor="middle" dominant-baseline="central">烟</text>
<text x="1123.0" y="1045.1" font-size="31" font-family='"Liberation Serif","Noto Serif CJK SC",serif' font-weight="500" fill="#000" text-anchor="middle" dominant-baseline="central">气</text>
<text x="1123.0" y="1085.2" font-size="31" font-family='"Liberation Serif","Noto Serif CJK SC",serif' font-weight="500" fill="#000" text-anchor="middle" dominant-baseline="central">混</text>
<text x="1123.0" y="1125.3" font-size="31" font-family='"Liberation Serif","Noto Serif CJK SC",serif' font-weight="500" fill="#000" text-anchor="middle" dominant-baseline="central">合</text>
<text x="1123.0" y="1165.4" font-size="31" font-family='"Liberation Serif","Noto Serif CJK SC",serif' font-weight="500" fill="#000" text-anchor="middle" dominant-baseline="central">器</text>
<g id="rto">
<rect x="1416.0" y="241.0" width="867.0" height="1014.0" fill="#FFFEF6"  />
<polygon points="1700.5,265.4 2072.6,265.4 2242.0,384.2 2242.0,819.0 1530.8,819.0 1530.8,384.2" fill="url(#salm)"/>
<polygon points="1712.0,292.0 2061.0,292.0 2214.0,399.0 2214.0,812.0 1560.0,812.0 1560.0,399.0" fill="url(#salm2)" filter="url(#b6)"/>
<ellipse cx="1888" cy="338" rx="50" ry="66" fill="#FDDDD2" filter="url(#b12)" opacity="0.8"/>
<line x1="1489.0" y1="1159.0" x2="1489.0" y2="1255.0" stroke="#DCDDE6" stroke-width="1.2" />
<polygon points="1530.8,819.0 1605.4,894.3 1623.4,894.3 1623.4,973.8 1754.5,973.8 1754.5,894.3 1771.4,894.3 1848.0,823.0 1852.0,819.0" fill="#FDF1E7"/>
<polygon points="1922.0,819.0 1934.6,823.0 2008.0,894.6 2015.0,894.6 2015.0,973.8 2146.0,973.8 2146.0,895.5 2160.5,895.5 2242.0,824.0 2242.0,819.0" fill="#FDF1E7"/>
<polygon points="1498.0,973.8 2146.0,973.8 2146.0,999.6 2112.8,1030.0 1498.0,1030.0" fill="#FDF1E7"/>
<polygon points="1623.6,1028.0 1623.6,1120.0 1656.8,1156.8 1771.0,1156.8 1771.0,1256.0 1824.5,1256.0 1824.5,1156.8 2036.0,1156.8 2070.8,1120.0 2070.8,1028.0" fill="#FDF4EC"/>
<rect x="1679.5" y="1030.0" width="335.5" height="72.6" fill="#FFFEF6"  />
<rect x="1679.5" y="894.3" width="21.5" height="79.5" fill="#FFFDF9"  />
<rect x="2069.0" y="894.6" width="21.0" height="79.2" fill="#FFFDF9"  />
<rect x="1826" y="548" width="118" height="272" rx="8" fill="#FCE0D6" filter="url(#b3)"/>
<rect x="1856.0" y="573.7" width="62.0" height="256.3" fill="#FFFEF6"  />
<polygon points="1856.0,815.0 1848.0,823.0 1771.4,894.3 1754.5,894.3 1754.5,973.8 2015.0,973.8 2015.0,894.6 2008.0,894.6 1934.6,823.0 1918.0,815.0" fill="#FFFEF6"/>
<g filter="url(#b1)">
<rect x="1567.4" y="573.4" width="72.4" height="44.2" fill="#AF1E21" opacity="0.2"/>
<rect x="1614.2" y="573.4" width="5.4" height="44.2" fill="#AF1E21" opacity="0.45"/>
<rect x="1567.4" y="573.4" width="46.8" height="44.2" fill="#AF1E21"/>
<rect x="1619.6" y="573.4" width="20.2" height="44.2" fill="#AF1E21"/>
<rect x="1590.3" y="573.4" width="2" height="44.2" fill="#FF8080" opacity="0.25"/>
<rect x="1652.3" y="573.4" width="71.8" height="44.2" fill="#AF1E21" opacity="0.2"/>
<rect x="1652.3" y="573.4" width="47.3" height="44.2" fill="#AF1E21"/>
<rect x="1711.0" y="573.4" width="13.1" height="44.2" fill="#AF1E21"/>
<rect x="1675.2" y="573.4" width="2" height="44.2" fill="#FF8080" opacity="0.25"/>
<rect x="1742.0" y="573.4" width="67.5" height="44.2" fill="#AF1E21" opacity="0.2"/>
<rect x="1742.0" y="573.4" width="19.1" height="44.2" fill="#AF1E21"/>
<rect x="1768.2" y="573.4" width="19.0" height="44.2" fill="#AF1E21"/>
<rect x="1794.3" y="573.4" width="15.2" height="44.2" fill="#AF1E21"/>
<rect x="1962.4" y="573.4" width="72.4" height="44.2" fill="#DA2A2C" opacity="0.2"/>
<rect x="2002.7" y="573.4" width="10.9" height="44.2" fill="#DA2A2C" opacity="0.45"/>
<rect x="1962.4" y="573.4" width="19.1" height="44.2" fill="#DA2A2C"/>
<rect x="1988.0" y="573.4" width="14.7" height="44.2" fill="#DA2A2C"/>
<rect x="2013.6" y="573.4" width="21.2" height="44.2" fill="#DA2A2C"/>
<rect x="2045.1" y="573.4" width="72.9" height="44.2" fill="#DA2A2C" opacity="0.2"/>
<rect x="2091.9" y="573.4" width="6.0" height="44.2" fill="#DA2A2C" opacity="0.45"/>
<rect x="2045.1" y="573.4" width="20.7" height="44.2" fill="#DA2A2C"/>
<rect x="2072.9" y="573.4" width="19.0" height="44.2" fill="#DA2A2C"/>
<rect x="2097.9" y="573.4" width="20.1" height="44.2" fill="#DA2A2C"/>
<rect x="2129.4" y="573.4" width="72.9" height="44.2" fill="#DA2A2C" opacity="0.2"/>
<rect x="2176.8" y="573.4" width="4.3" height="44.2" fill="#DA2A2C" opacity="0.45"/>
<rect x="2129.4" y="573.4" width="19.6" height="44.2" fill="#DA2A2C"/>
<rect x="2155.6" y="573.4" width="21.2" height="44.2" fill="#DA2A2C"/>
<rect x="2181.1" y="573.4" width="21.2" height="44.2" fill="#DA2A2C"/>
<rect x="1567.4" y="632.8" width="72.4" height="43.5" fill="#B21E22" opacity="0.2"/>
<rect x="1614.2" y="632.8" width="5.4" height="43.5" fill="#B21E22" opacity="0.45"/>
<rect x="1567.4" y="632.8" width="46.8" height="43.5" fill="#B21E22"/>
<rect x="1619.6" y="632.8" width="20.2" height="43.5" fill="#B21E22"/>
<rect x="1590.3" y="632.8" width="2" height="43.5" fill="#FF8080" opacity="0.25"/>
<rect x="1652.3" y="632.8" width="71.8" height="43.5" fill="#B21E22" opacity="0.2"/>
<rect x="1652.3" y="632.8" width="47.3" height="43.5" fill="#B21E22"/>
<rect x="1711.0" y="632.8" width="13.1" height="43.5" fill="#B21E22"/>
<rect x="1675.2" y="632.8" width="2" height="43.5" fill="#FF8080" opacity="0.25"/>
<rect x="1742.0" y="632.8" width="67.5" height="43.5" fill="#B21E22" opacity="0.2"/>
<rect x="1742.0" y="632.8" width="19.1" height="43.5" fill="#B21E22"/>
<rect x="1768.2" y="632.8" width="19.0" height="43.5" fill="#B21E22"/>
<rect x="1794.3" y="632.8" width="15.2" height="43.5" fill="#B21E22"/>
<rect x="1962.4" y="632.8" width="72.4" height="43.5" fill="#DD2A2C" opacity="0.2"/>
<rect x="2002.7" y="632.8" width="10.9" height="43.5" fill="#DD2A2C" opacity="0.45"/>
<rect x="1962.4" y="632.8" width="19.1" height="43.5" fill="#DD2A2C"/>
<rect x="1988.0" y="632.8" width="14.7" height="43.5" fill="#DD2A2C"/>
<rect x="2013.6" y="632.8" width="21.2" height="43.5" fill="#DD2A2C"/>
<rect x="2045.1" y="632.8" width="72.9" height="43.5" fill="#DD2A2C" opacity="0.2"/>
<rect x="2091.9" y="632.8" width="6.0" height="43.5" fill="#DD2A2C" opacity="0.45"/>
<rect x="2045.1" y="632.8" width="20.7" height="43.5" fill="#DD2A2C"/>
<rect x="2072.9" y="632.8" width="19.0" height="43.5" fill="#DD2A2C"/>
<rect x="2097.9" y="632.8" width="20.1" height="43.5" fill="#DD2A2C"/>
<rect x="2129.4" y="632.8" width="72.9" height="43.5" fill="#DD2A2C" opacity="0.2"/>
<rect x="2176.8" y="632.8" width="4.3" height="43.5" fill="#DD2A2C" opacity="0.45"/>
<rect x="2129.4" y="632.8" width="19.6" height="43.5" fill="#DD2A2C"/>
<rect x="2155.6" y="632.8" width="21.2" height="43.5" fill="#DD2A2C"/>
<rect x="2181.1" y="632.8" width="21.2" height="43.5" fill="#DD2A2C"/>
<rect x="1567.4" y="692.0" width="72.4" height="42.0" fill="url(#gl3)" opacity="0.2"/>
<rect x="1614.2" y="692.0" width="5.4" height="42.0" fill="url(#gl3)" opacity="0.45"/>
<rect x="1567.4" y="692.0" width="46.8" height="42.0" fill="url(#gl3)"/>
<rect x="1619.6" y="692.0" width="20.2" height="42.0" fill="url(#gl3)"/>
<rect x="1590.3" y="692.0" width="2" height="42.0" fill="#FF8080" opacity="0.25"/>
<rect x="1652.3" y="692.0" width="71.8" height="42.0" fill="url(#gl3)" opacity="0.2"/>
<rect x="1652.3" y="692.0" width="47.3" height="42.0" fill="url(#gl3)"/>
<rect x="1711.0" y="692.0" width="13.1" height="42.0" fill="url(#gl3)"/>
<rect x="1675.2" y="692.0" width="2" height="42.0" fill="#FF8080" opacity="0.25"/>
<rect x="1742.0" y="692.0" width="67.5" height="42.0" fill="url(#gl3)" opacity="0.2"/>
<rect x="1742.0" y="692.0" width="19.1" height="42.0" fill="url(#gl3)"/>
<rect x="1768.2" y="692.0" width="19.0" height="42.0" fill="url(#gl3)"/>
<rect x="1794.3" y="692.0" width="15.2" height="42.0" fill="url(#gl3)"/>
<rect x="1962.4" y="692.0" width="72.4" height="42.0" fill="url(#gr3)" opacity="0.2"/>
<rect x="2002.7" y="692.0" width="10.9" height="42.0" fill="url(#gr3)" opacity="0.45"/>
<rect x="1962.4" y="692.0" width="19.1" height="42.0" fill="url(#gr3)"/>
<rect x="1988.0" y="692.0" width="14.7" height="42.0" fill="url(#gr3)"/>
<rect x="2013.6" y="692.0" width="21.2" height="42.0" fill="url(#gr3)"/>
<rect x="2045.1" y="692.0" width="72.9" height="42.0" fill="url(#gr3)" opacity="0.2"/>
<rect x="2091.9" y="692.0" width="6.0" height="42.0" fill="url(#gr3)" opacity="0.45"/>
<rect x="2045.1" y="692.0" width="20.7" height="42.0" fill="url(#gr3)"/>
<rect x="2072.9" y="692.0" width="19.0" height="42.0" fill="url(#gr3)"/>
<rect x="2097.9" y="692.0" width="20.1" height="42.0" fill="url(#gr3)"/>
<rect x="2129.4" y="692.0" width="72.9" height="42.0" fill="url(#gr3)" opacity="0.2"/>
<rect x="2176.8" y="692.0" width="4.3" height="42.0" fill="url(#gr3)" opacity="0.45"/>
<rect x="2129.4" y="692.0" width="19.6" height="42.0" fill="url(#gr3)"/>
<rect x="2155.6" y="692.0" width="21.2" height="42.0" fill="url(#gr3)"/>
<rect x="2181.1" y="692.0" width="21.2" height="42.0" fill="url(#gr3)"/>
<rect x="1567.4" y="750.7" width="72.4" height="42.6" fill="url(#gl4)" opacity="0.2"/>
<rect x="1614.2" y="750.7" width="5.4" height="42.6" fill="url(#gl4)" opacity="0.45"/>
<rect x="1567.4" y="750.7" width="46.8" height="42.6" fill="url(#gl4)"/>
<rect x="1619.6" y="750.7" width="20.2" height="42.6" fill="url(#gl4)"/>
<rect x="1590.3" y="750.7" width="2" height="42.6" fill="#FF8080" opacity="0.25"/>
<rect x="1652.3" y="750.7" width="71.8" height="42.6" fill="url(#gl4)" opacity="0.2"/>
<rect x="1652.3" y="750.7" width="47.3" height="42.6" fill="url(#gl4)"/>
<rect x="1711.0" y="750.7" width="13.1" height="42.6" fill="url(#gl4)"/>
<rect x="1675.2" y="750.7" width="2" height="42.6" fill="#FF8080" opacity="0.25"/>
<rect x="1742.0" y="750.7" width="67.5" height="42.6" fill="url(#gl4)" opacity="0.2"/>
<rect x="1742.0" y="750.7" width="19.1" height="42.6" fill="url(#gl4)"/>
<rect x="1768.2" y="750.7" width="19.0" height="42.6" fill="url(#gl4)"/>
<rect x="1794.3" y="750.7" width="15.2" height="42.6" fill="url(#gl4)"/>
<rect x="1962.4" y="750.7" width="72.4" height="42.6" fill="url(#gl4)" opacity="0.2"/>
<rect x="2002.7" y="750.7" width="10.9" height="42.6" fill="url(#gl4)" opacity="0.45"/>
<rect x="1962.4" y="750.7" width="19.1" height="42.6" fill="url(#gl4)"/>
<rect x="1988.0" y="750.7" width="14.7" height="42.6" fill="url(#gl4)"/>
<rect x="2013.6" y="750.7" width="21.2" height="42.6" fill="url(#gl4)"/>
<rect x="2045.1" y="750.7" width="72.9" height="42.6" fill="url(#gl4)" opacity="0.2"/>
<rect x="2091.9" y="750.7" width="6.0" height="42.6" fill="url(#gl4)" opacity="0.45"/>
<rect x="2045.1" y="750.7" width="20.7" height="42.6" fill="url(#gl4)"/>
<rect x="2072.9" y="750.7" width="19.0" height="42.6" fill="url(#gl4)"/>
<rect x="2097.9" y="750.7" width="20.1" height="42.6" fill="url(#gl4)"/>
<rect x="2129.4" y="750.7" width="72.9" height="42.6" fill="url(#gl4)" opacity="0.2"/>
<rect x="2176.8" y="750.7" width="4.3" height="42.6" fill="url(#gl4)" opacity="0.45"/>
<rect x="2129.4" y="750.7" width="19.6" height="42.6" fill="url(#gl4)"/>
<rect x="2155.6" y="750.7" width="21.2" height="42.6" fill="url(#gl4)"/>
<rect x="2181.1" y="750.7" width="21.2" height="42.6" fill="url(#gl4)"/>
</g>
<path d="M1530.8 823 V384.2 L1700.5 265.4 H2072.6 L2242 384.2 V823" fill="none" stroke="#27507F" stroke-width="8" stroke-linejoin="miter"/>
<path d="M1852 823 V569.7 H1922 V823" fill="none" stroke="#27507F" stroke-width="8" stroke-linejoin="miter"/>
<rect x="1534.8" y="814.3" width="40.2" height="9.4" fill="#40598A"/>
<rect x="1600.9" y="814.3" width="44.6" height="9.4" fill="#40598A"/>
<rect x="1671.4" y="814.3" width="42.0" height="9.4" fill="#40598A"/>
<rect x="1742" y="814.3" width="43.7" height="9.4" fill="#40598A"/>
<rect x="1810.7" y="814.3" width="39.3" height="9.4" fill="#40598A"/>
<rect x="1926" y="818.5" width="39.9" height="5.6" fill="#16204E"/>
<rect x="1987.4" y="818.5" width="48.0" height="5.6" fill="#16204E"/>
<rect x="2059.9" y="818.5" width="47.0" height="5.6" fill="#16204E"/>
<rect x="2124.5" y="818.5" width="52.9" height="5.6" fill="#16204E"/>
<rect x="2197" y="818.5" width="43.0" height="5.6" fill="#16204E"/>
<path d="M1530.8 821 L1605.4 894.3 H1623.4 V973.8" fill="none" stroke="#1A2452" stroke-width="4.4" stroke-linejoin="miter"/>
<path d="M1585 973.8 H1701 V894.3 H1679.5 V973.8" fill="none" stroke="#1A2452" stroke-width="4.4" stroke-linejoin="miter"/>
<path d="M1850 821 L1771.4 894.3 H1754.5 V973.8 H2090 V894.6 H2069 V973.8" fill="none" stroke="#1A2452" stroke-width="4.4" stroke-linejoin="miter"/>
<path d="M1924 821 L2008 894.6 H2015 V973.8" fill="none" stroke="#1A2452" stroke-width="4.4" stroke-linejoin="miter"/>
<path d="M2242 824 L2160.5 895.5 H2145.6 V998.5 L2112 1030 H1585" fill="none" stroke="#1A2452" stroke-width="4.4" stroke-linejoin="miter"/>
<path d="M1623.6 1030 V1120 L1656.8 1156.8 H1771 V1256" fill="none" stroke="#1A2452" stroke-width="4.4" stroke-linejoin="miter"/>
<path d="M2070.8 1030 V1120 L2036 1156.8 H1824.5 V1256" fill="none" stroke="#1A2452" stroke-width="4.4" stroke-linejoin="miter"/>
<path d="M1679.5 1030 V1102.6 H2015 V1030" fill="none" stroke="#1A2452" stroke-width="4.4" stroke-linejoin="miter"/>
<path d="M1677.5 1101.5 H2017" stroke="#34507A" stroke-width="9.5" fill="none"/>
<path d="M1824.9 1159 V1256" stroke="#27507F" stroke-width="6.5" fill="none"/>
<path d="M1700 884 H1750 M1727 884 V933.6" stroke="#1A2452" stroke-width="4" fill="none"/>
<path d="M2016.7 884 H2065.6 M2041.2 884 V933" stroke="#1A2452" stroke-width="4" fill="none"/>
<rect x="1620.5" y="850.5" width="56.3" height="9.9" fill="#CBCACD"  />
<rect x="2093.6" y="850.5" width="48.9" height="9.9" fill="#CBCACD"  />
<line x1="2120.4" y1="857.0" x2="2120.4" y2="902.6" stroke="#1A2452" stroke-width="3.6" />
<path d="M1866 271 H1904" stroke="#1E3A6E" stroke-width="7" fill="none"/>
<rect x="1878.5" y="268.0" width="14.0" height="33.0" fill="#1C2A62"  />
<path d="M1880.3 310 L1871 330 L1873.5 346 L1881 355 L1887.5 352 L1888 336 L1884 320 Z" fill="#F3C63C" opacity="0.92" filter="url(#b2)"/>
<path d="M1889.5 340 L1887.5 356 L1890 376 L1892.5 389 L1899 374 L1906 358 L1901 347 L1895 341 Z" fill="#F7B26C" opacity="0.85" filter="url(#b2)"/>
<rect x="1190.0" y="969.6" width="311.0" height="64.8" fill="#1F4E79"/>
<rect x="1190.0" y="975.6" width="311.0" height="52.8" fill="#FFF2E6"/>
<polygon points="1347.9,1005.3 1456.2,1005.3 1456.2,1015.8 1492.2,999.8 1456.2,983.8 1456.2,994.3 1347.9,994.3" fill="url(#ag17)"/>
<path d="M1498 972.6 H1513.5 L1533 957 H1563 L1585.6 972.6 V1030 L1565.3 1050.3 H1530.8 L1513.5 1030 H1498 Z" fill="#FDF1E7" stroke="none"/>
<path d="M1500 972.6 H1513.5 C1522 972 1526 960 1534 958.5 M1562 958.5 C1572 960 1576 972 1585.6 972.6 H1590 M1500 1030.4 H1513.5 L1530.8 1050.3 H1565.3 L1587.6 1030.4" fill="none" stroke="#1A2452" stroke-width="3.6" stroke-linejoin="round"/>
<path d="M1533 958 H1563" stroke="#46588A" stroke-width="7" fill="none"/>
<path d="M1533 973 H1561 M1535 973 L1539 992 M1560 973 L1557 992" fill="none" stroke="#1A2452" stroke-width="3.2"/>
<ellipse cx="1527.7" cy="1004.5" rx="10.5" ry="11.5" fill="none" stroke="#1A2452" stroke-width="3.6"/>
<ellipse cx="1570.4" cy="1001.5" rx="11" ry="13" fill="none" stroke="#1A2452" stroke-width="3.6"/>
<path d="M1539 1014 L1536 1026 M1558 1012 L1560 1026 M1540 1031 H1562" fill="none" stroke="#1A2452" stroke-width="3.2"/>
<rect x="1542.0" y="998.0" width="14.0" height="10.5" fill="#1B2A6A"  />
<text x="1752.3" y="481.5" font-size="49.5" letter-spacing="0.85" font-family='"Liberation Sans","Noto Sans CJK SC",sans-serif'>RTO燃烧室</text>
</g>
<rect x="2237.0" y="416.0" width="271.0" height="57.0" fill="#1F4E79"/>
<rect x="2450.4" y="445.0" width="57.6" height="439.0" fill="#1F4E79"/>
<rect x="2243.0" y="422.0" width="259.0" height="45.0" fill="#FCC7B5"/>
<rect x="2456.4" y="445.0" width="45.6" height="439.0" fill="#FCC7B5"/>
<rect x="1766.5" y="1255.0" width="64.5" height="290.0" fill="#1F4E79"/>
<rect x="1766.5" y="1512.0" width="1083.5" height="63.5" fill="#1F4E79"/>
<rect x="2443.2" y="1039.7" width="64.8" height="505.3" fill="#1F4E79"/>
<rect x="1772.5" y="1255.0" width="52.5" height="290.0" fill="#FFF2E6"/>
<rect x="1772.5" y="1518.0" width="1077.5" height="51.5" fill="#FFF2E6"/>
<rect x="2449.2" y="1045.7" width="52.8" height="499.3" fill="#FFF2E6"/>
<rect x="1769.0" y="1579.0" width="58.0" height="27.0" fill="#FFF2E6"  />
<polygon points="1792.8,1278.3 1792.8,1386.3 1781.8,1386.3 1798.3,1419.3 1814.8,1386.3 1803.8,1386.3 1803.8,1278.3" fill="url(#ag18)"/>
<polygon points="2472.0,1099.3 2472.0,1207.5 2461.0,1207.5 2477.5,1240.5 2494.0,1207.5 2483.0,1207.5 2483.0,1099.3" fill="url(#ag19)"/>
<rect x="2320.9" y="883.1" width="318.9" height="159.6" fill="#BDD7EE" stroke="#41719C" stroke-width="6" />
<line x1="2360.9" y1="883.0" x2="2360.9" y2="1042.7" stroke="#41719C" stroke-width="6" />
<line x1="2600.0" y1="883.0" x2="2600.0" y2="1042.7" stroke="#41719C" stroke-width="6" />
<path d="M2443.2 1042.6 H2508" stroke="#1F4E79" stroke-width="6" fill="none"/>
<text x="2493" y="967.3" font-size="49.8" font-family='"Liberation Sans","Noto Sans CJK SC",sans-serif' text-anchor="middle" dominant-baseline="central">余热锅炉</text>
<polygon points="2872.5,527.4 2961.6,527.4 2961.6,1275.7 2994.5,1574.5 2840.5,1573.5 2872.5,1275.7" fill="#BDD7EE" stroke="#1F4E79" stroke-width="6" stroke-linejoin="miter"/>
<text x="2918.8" y="943.5" font-size="50" font-family='"Liberation Sans","Noto Sans CJK SC",sans-serif' font-weight="normal" fill="#000" text-anchor="middle" dominant-baseline="central">烟</text>
<text x="2918.8" y="1002.5" font-size="50" font-family='"Liberation Sans","Noto Sans CJK SC",sans-serif' font-weight="normal" fill="#000" text-anchor="middle" dominant-baseline="central">囱</text>
</svg>
</body></html>
